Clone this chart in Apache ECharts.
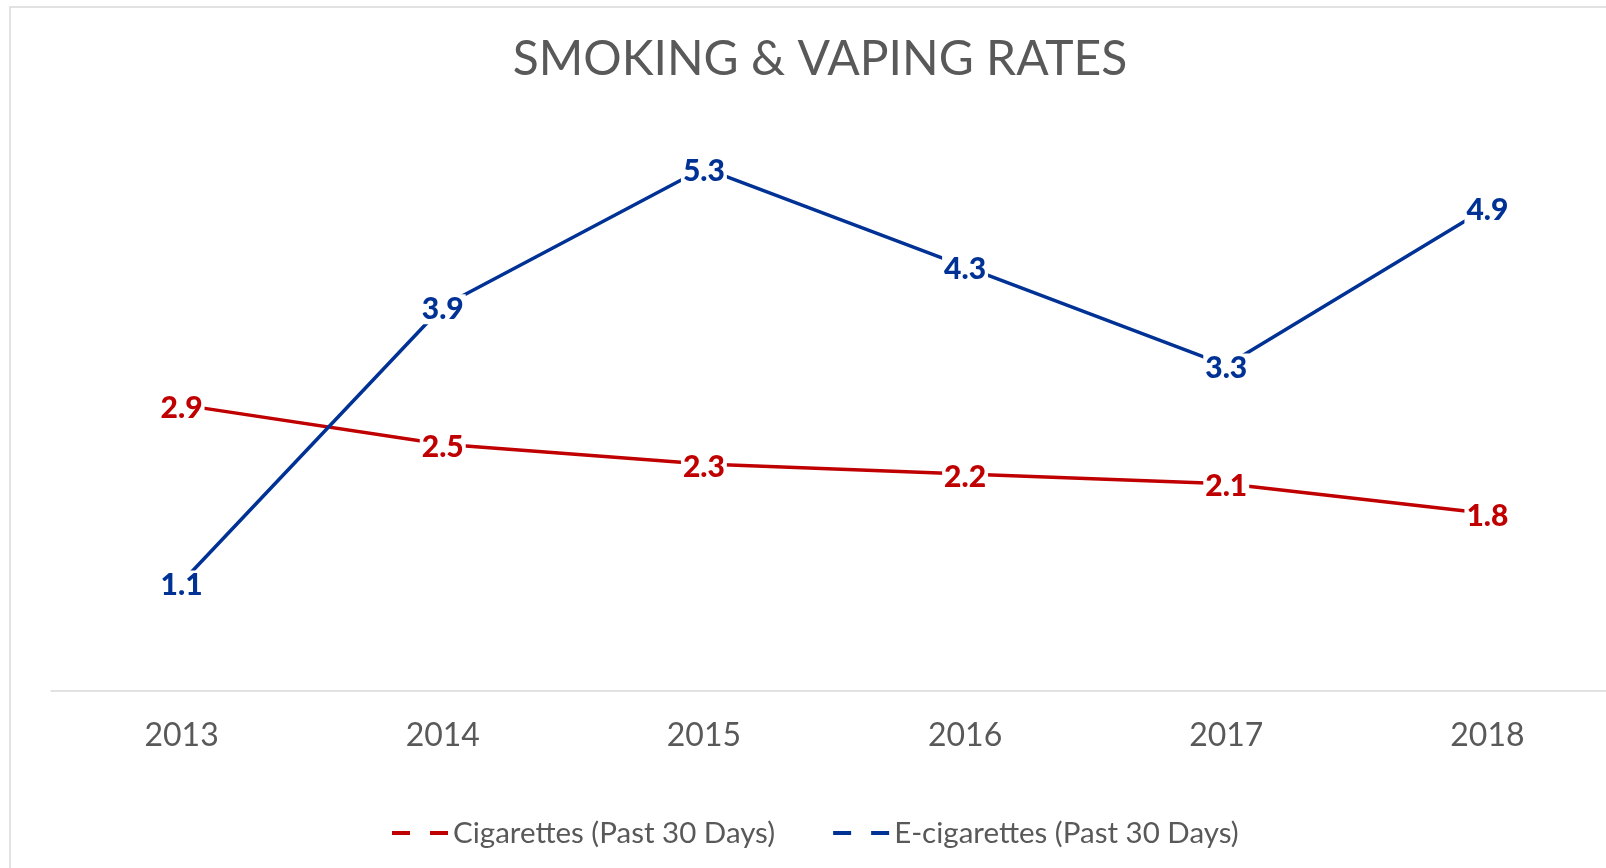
<!DOCTYPE html>
<html>
<head>
  <meta charset="utf-8">
  <title>Smoking & Vaping Rates</title>
  <script src="https://cdn.jsdelivr.net/npm/echarts@6/dist/echarts.min.js"></script>
  <style>
    html, body {
      margin: 0;
      padding: 0;
      background: #fff;
      overflow: hidden;
    }
    /* the original chart is cut off on the right, so the canvas is a bit wider than the window */
    #chart {
      width: 1630px;
      height: 868px;
    }
  </style>
</head>
<body>
  <div id="chart"></div>
  <script>
    // data
    var years = ['2013', '2014', '2015', '2016', '2017', '2018'];
    var cigarettes = [2.9, 2.5, 2.3, 2.2, 2.1, 1.8];
    var ecigarettes = [1.1, 3.9, 5.3, 4.3, 3.3, 4.9];
    var seriesNames = ['Cigarettes (Past 30 Days)', 'E-cigarettes (Past 30 Days)'];
    var colors = ['#C00000', '#003296'];

    var font = 'Lato, "Open Sans", sans-serif';
    var dashIcon = 'path://M0,0H18V4H0Z M38,0H56V4H38Z';

    function makeSeries(name, values, color) {
      return {
        name: name,
        type: 'line',
        data: values,
        symbol: 'circle',
        symbolSize: 1,
        itemStyle: { color: color },
        lineStyle: { color: color, width: 3.5 },
        label: {
          show: true,
          position: 'inside',
          offset: [0, 3],
          color: color,
          fontFamily: font,
          fontWeight: 900,
          fontSize: 30,
          backgroundColor: '#fff',
          padding: [0, 2]
        },
        emphasis: { disabled: true },
        animation: false
      };
    }

    var chart = echarts.init(document.getElementById('chart'));
    chart.setOption({
      backgroundColor: '#fff',
      title: {
        text: 'SMOKING & VAPING RATES',
        left: 815,
        textAlign: 'center',
        top: 31,
        textStyle: {
          fontFamily: font,
          fontWeight: 'normal',
          fontSize: 48,
          color: '#595959'
        }
      },
      // chart frame, cropped on the right and bottom
      graphic: [{
        type: 'rect',
        shape: { x: 10, y: 7, width: 1700, height: 1000 },
        style: { fill: 'none', stroke: '#d9d9d9', lineWidth: 1.5 },
        silent: true
      }],
      legend: {
        left: 387,
        top: 813,
        itemWidth: 56,
        itemHeight: 4,
        itemGap: 58,
        icon: dashIcon,
        data: seriesNames,
        textStyle: {
          fontFamily: font,
          fontSize: 29.5,
          color: '#595959'
        }
      },
      grid: {
        left: 51,
        right: 12,
        top: 99,
        bottom: 177
      },
      xAxis: {
        type: 'category',
        data: years,
        boundaryGap: true,
        axisLine: { lineStyle: { color: '#d9d9d9', width: 1.5 } },
        axisTick: { show: false },
        axisLabel: {
          margin: 29,
          fontFamily: font,
          fontSize: 32,
          color: '#595959'
        }
      },
      yAxis: {
        type: 'value',
        min: 0,
        max: 6,
        show: false,
        splitLine: { show: false }
      },
      series: [
        makeSeries(seriesNames[0], cigarettes, colors[0]),
        makeSeries(seriesNames[1], ecigarettes, colors[1])
      ]
    });
  </script>
</body>
</html>
